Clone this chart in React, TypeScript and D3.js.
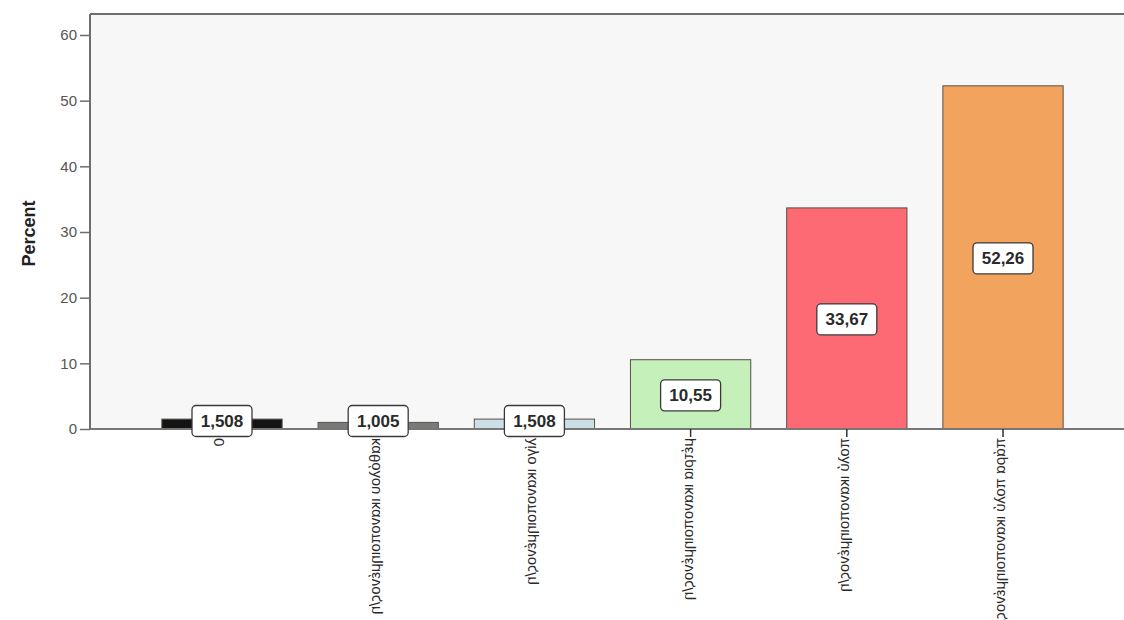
import React, { useRef, useEffect } from "react";
import * as d3 from "d3";

const categories = [
  "0",
  "καθόλου ικανοποιημένος/η",
  "λίγο ικανοποιημένος/η",
  "μέτρια ικανοποιημένος/η",
  "πολύ ικανοποιημένος/η",
  "πάρα πολύ ικανοποιημένος/η",
];
const percents = [1.508, 1.005, 1.508, 10.55, 33.67, 52.26];
const valueLabels = ["1,508", "1,005", "1,508", "10,55", "33,67", "52,26"];
const barColors = ["#141414", "#7a7a7a", "#cadfe8", "#c6f0b9", "#fd6a74", "#f2a35d"];
const yTicks = [0, 10, 20, 30, 40, 50, 60];

const W = 1124;
const H = 620;
const FONT = "'Liberation Sans', Arial, sans-serif";

const App = () => {
  const ref = useRef(null);

  useEffect(() => {
    if (!ref.current) return;
    const svg = d3.select(ref.current);
    svg.selectAll("*").remove();

    const left = 90,
      top = 14,
      bottom = 429;

    const x = d3
      .scaleBand()
      .domain(categories)
      .range([left, 1135])
      .paddingInner(0.23)
      .paddingOuter(0.46);

    const y = d3.scaleLinear().domain([0, 60]).range([bottom, 35]);

    // plot background
    svg
      .append("rect")
      .attr("x", left)
      .attr("y", top)
      .attr("width", W - left)
      .attr("height", bottom - top)
      .attr("fill", "#f7f7f7");

    // top frame
    svg
      .append("line")
      .attr("x1", left)
      .attr("x2", W)
      .attr("y1", top)
      .attr("y2", top)
      .attr("stroke", "#6e6e6e")
      .attr("stroke-width", 2);

    // y axis
    const yAxis = svg
      .append("g")
      .attr("transform", `translate(${left},0)`)
      .call(d3.axisLeft(y).tickValues(yTicks).tickSize(10).tickPadding(3));
    yAxis.select(".domain").remove();
    yAxis
      .selectAll(".tick line")
      .attr("stroke", "#6e6e6e")
      .attr("stroke-width", 1.5);
    yAxis
      .selectAll(".tick text")
      .attr("fill", "#555")
      .style("font-family", FONT)
      .style("font-size", "15px");

    svg
      .append("line")
      .attr("x1", left)
      .attr("x2", left)
      .attr("y1", top)
      .attr("y2", bottom)
      .attr("stroke", "#6e6e6e")
      .attr("stroke-width", 2);

    // y title
    svg
      .append("text")
      .attr("transform", `translate(30,${(top + bottom) / 2 + 12}) rotate(-90)`)
      .attr("text-anchor", "middle")
      .attr("dominant-baseline", "middle")
      .style("font-family", FONT)
      .style("font-size", "18px")
      .style("font-weight", "bold")
      .attr("fill", "#222")
      .text("Percent");

    const data = categories.map((c, i) => ({
      cat: c,
      value: percents[i],
      label: valueLabels[i],
      color: barColors[i],
    }));

    // bars
    svg
      .selectAll("rect.bar")
      .data(data)
      .enter()
      .append("rect")
      .attr("class", "bar")
      .attr("x", (d) => x(d.cat))
      .attr("y", (d) => y(d.value))
      .attr("width", x.bandwidth())
      .attr("height", (d) => bottom - y(d.value))
      .attr("fill", (d) => d.color)
      .attr("stroke", "#5a5048")
      .attr("stroke-width", 1);

    // x axis line
    svg
      .append("line")
      .attr("x1", left)
      .attr("x2", W)
      .attr("y1", bottom)
      .attr("y2", bottom)
      .attr("stroke", "#777")
      .attr("stroke-width", 2);

    // category ticks
    svg
      .selectAll("line.xtick")
      .data(data)
      .enter()
      .append("line")
      .attr("class", "xtick")
      .attr("x1", (d) => x(d.cat) + x.bandwidth() / 2)
      .attr("x2", (d) => x(d.cat) + x.bandwidth() / 2)
      .attr("y1", bottom)
      .attr("y2", bottom + 8)
      .attr("stroke", "#333")
      .attr("stroke-width", 1.5);

    // category labels (rotated, mirrored like the original)
    svg
      .selectAll("text.xlab")
      .data(data)
      .enter()
      .append("text")
      .attr("class", "xlab")
      .attr(
        "transform",
        (d) =>
          `translate(${x(d.cat) + x.bandwidth() / 2 - 2},${bottom + 9}) rotate(90) scale(1,-1)`
      )
      .attr("text-anchor", "start")
      .attr("dominant-baseline", "middle")
      .style("font-family", FONT)
      .style("font-size", "15px")
      .attr("fill", "#2a2a2a")
      .text((d) => d.cat);

    // value label boxes
    const bw = 60,
      bh = 31;
    const lab = svg
      .selectAll("g.vlab")
      .data(data)
      .enter()
      .append("g")
      .attr("class", "vlab")
      .attr("transform", (d) => {
        const cx = x(d.cat) + x.bandwidth() / 2;
        const cy = Math.min((y(d.value) + bottom) / 2 + 1, 421);
        return `translate(${cx},${cy})`;
      });
    lab
      .append("rect")
      .attr("x", -bw / 2)
      .attr("y", -bh / 2)
      .attr("width", bw)
      .attr("height", bh)
      .attr("rx", 4)
      .attr("fill", "#fff")
      .attr("stroke", "#3a3a3a")
      .attr("stroke-width", 1.3);
    lab
      .append("text")
      .attr("text-anchor", "middle")
      .attr("dominant-baseline", "central")
      .style("font-family", FONT)
      .style("font-size", "17px")
      .style("font-weight", "bold")
      .attr("fill", "#2a2a2a")
      .text((d) => d.label);
  }, []);

  return (
    <svg
      ref={ref}
      width={W}
      height={H}
      style={{ position: "absolute", left: 0, top: 0, background: "#fff" }}
    />
  );
};

export default App;
